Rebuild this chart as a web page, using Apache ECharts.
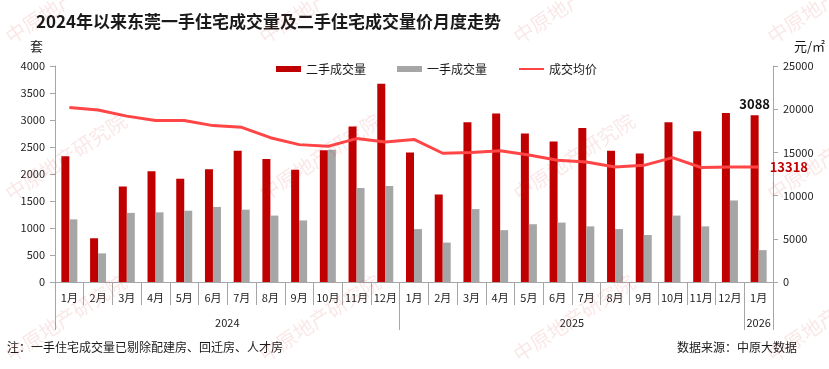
<!DOCTYPE html>
<html>
<head>
<meta charset="utf-8">
<script src="https://cdn.jsdelivr.net/npm/echarts@6/dist/echarts.min.js"></script>
<style>
html,body{margin:0;padding:0;background:#fff;}
#chart{width:829px;height:369px;}
</style>
</head>
<body>
<div id="chart"></div>
<script>
// ---- data ----
var months = ['1月','2月','3月','4月','5月','6月','7月','8月','9月','10月','11月','12月',
              '1月','2月','3月','4月','5月','6月','7月','8月','9月','10月','11月','12月',
              '1月'];
var years = ['2024','2025','2026'];
var yearMonthCounts = [12, 12, 1];
var secondHand = [2330,810,1770,2050,1910,2090,2430,2280,2080,2440,2880,3670,
                  2400,1620,2960,3120,2750,2600,2850,2430,2380,2960,2790,3130,
                  3088];
var firstHand = [1160,530,1280,1290,1320,1390,1340,1230,1140,2450,1740,1780,
                 980,730,1350,960,1070,1100,1030,980,870,1230,1030,1510,
                 590];
var avgPrice = [20200,19900,19200,18700,18700,18100,17900,16700,15900,15700,16600,16200,
                16500,14900,15000,15200,14700,14100,13900,13300,13500,14400,13250,13300,
                13318];
var leftTicks = {min:0, max:4000, interval:500};
var rightTicks = {min:0, max:25000, interval:5000};

// ---- derived year boundaries / label positions ----
var yearBounds = [0], yearCenters = [], acc = 0;
yearMonthCounts.forEach(function(c){ yearCenters.push(acc + c/2); acc += c; yearBounds.push(acc); });

var FONT = '"Noto Sans CJK SC", "Noto Sans", sans-serif';
var AXIS_COLOR = '#A6A6A6';
var last = secondHand.length - 1;
function plain(v){ return String(v); }

var chart = echarts.init(document.getElementById('chart'), null, {renderer:'canvas'});

var watermarks = [];
[0, 157, 318].forEach(function(cy){
  [66, 320, 574, 828].forEach(function(cx){
    watermarks.push({
      type:'text', x:cx, y:cy, rotation:0.58, z:100, silent:true,
      style:{text:'中原地产研究院', font:'20px ' + FONT, fill:'rgba(210,40,40,0.11)',
             align:'center', verticalAlign:'middle'}
    });
  });
});

var option = {
  animation:false,
  backgroundColor:'#fff',
  textStyle:{fontFamily:FONT},
  title:{
    text:'2024年以来东莞一手住宅成交量及二手住宅成交量价月度走势',
    left:31, top:8,
    textStyle:{fontSize:17, fontWeight:'bold', color:'#1a1a1a', fontFamily:FONT}
  },
  legend:{
    top:58, left:271,
    itemWidth:25, itemHeight:6, itemGap:31,
    textStyle:{fontSize:12, color:'#1a1a1a', fontFamily:FONT},
    data:[
      {name:'二手成交量', icon:'rect'},
      {name:'一手成交量', icon:'rect'},
      {name:'成交均价', itemStyle:{opacity:0, borderWidth:0}}
    ]
  },
  grid:{left:55, right:56, top:66, bottom:87, containLabel:false},
  xAxis:[
    {
      type:'category', data:months, position:'bottom',
      axisLine:{show:true, lineStyle:{color:AXIS_COLOR, width:1}},
      axisTick:{show:true, interval:0, length:23, lineStyle:{color:AXIS_COLOR}},
      axisLabel:{interval:0, fontSize:11, color:'#222', margin:10, fontFamily:FONT},
      splitLine:{show:false}
    },
    {
      type:'value', position:'bottom', min:0, max:acc,
      axisLine:{show:false},
      axisTick:{show:true, customValues:yearBounds, length:48, lineStyle:{color:AXIS_COLOR}},
      axisLabel:{show:true, customValues:yearCenters, fontSize:11, color:'#222', margin:35, fontFamily:FONT,
        formatter:function(v){ var i = yearCenters.indexOf(v); return i >= 0 ? years[i] : ''; }},
      splitLine:{show:false}
    }
  ],
  yAxis:[
    {
      type:'value', min:leftTicks.min, max:leftTicks.max, interval:leftTicks.interval,
      name:'套', nameLocation:'end', nameGap:13,
      nameTextStyle:{fontSize:13, color:'#1a1a1a', align:'right', padding:[0,12,0,0], fontFamily:FONT},
      axisLine:{show:true, lineStyle:{color:AXIS_COLOR}},
      axisTick:{show:true, length:5, lineStyle:{color:AXIS_COLOR}},
      axisLabel:{fontSize:11, color:'#222', margin:10, fontFamily:FONT, formatter:plain},
      splitLine:{show:false}
    },
    {
      type:'value', min:rightTicks.min, max:rightTicks.max, interval:rightTicks.interval,
      name:'元/㎡', nameLocation:'end', nameGap:13,
      nameTextStyle:{fontSize:13, color:'#1a1a1a', align:'left', padding:[0,0,0,21], fontFamily:FONT},
      axisLine:{show:true, lineStyle:{color:AXIS_COLOR}},
      axisTick:{show:true, length:5, lineStyle:{color:AXIS_COLOR}},
      axisLabel:{fontSize:11, color:'#222', margin:10, fontFamily:FONT, formatter:plain},
      splitLine:{show:false}
    }
  ],
  series:[
    {
      name:'二手成交量', type:'bar', xAxisIndex:0, yAxisIndex:0,
      barWidth:8, barGap:'0%',
      itemStyle:{color:'#C00000'},
      data:secondHand.map(function(v,i){
        return i === last ? {value:v, label:{show:true, position:'top', distance:5,
          fontSize:13, fontWeight:'bold', color:'#111', fontFamily:FONT}} : v;
      })
    },
    {
      name:'一手成交量', type:'bar', xAxisIndex:0, yAxisIndex:0,
      barWidth:8, barGap:'0%',
      itemStyle:{color:'#A6A6A6'},
      data:firstHand
    },
    {
      name:'成交均价', type:'line', xAxisIndex:0, yAxisIndex:1,
      symbol:'none', smooth:false,
      lineStyle:{color:'#FF4545', width:3},
      itemStyle:{color:'#FF4545'},
      z:5,
      endLabel:{show:true, distance:11, fontSize:13, fontWeight:'bold', color:'#C00000', fontFamily:FONT,
        formatter:function(p){ return String(p.value); }},
      data:avgPrice
    }
  ],
  graphic:[
    {type:'text', left:7, top:341, silent:true,
     style:{text:'注：一手住宅成交量已剔除配建房、回迁房、人才房', font:'12px ' + FONT, fill:'#1a1a1a'}},
    {type:'text', right:32, top:341, silent:true,
     style:{text:'数据来源：中原大数据', font:'12px ' + FONT, fill:'#1a1a1a'}}
  ].concat(watermarks)
};
chart.setOption(option);
</script>
</body>
</html>
